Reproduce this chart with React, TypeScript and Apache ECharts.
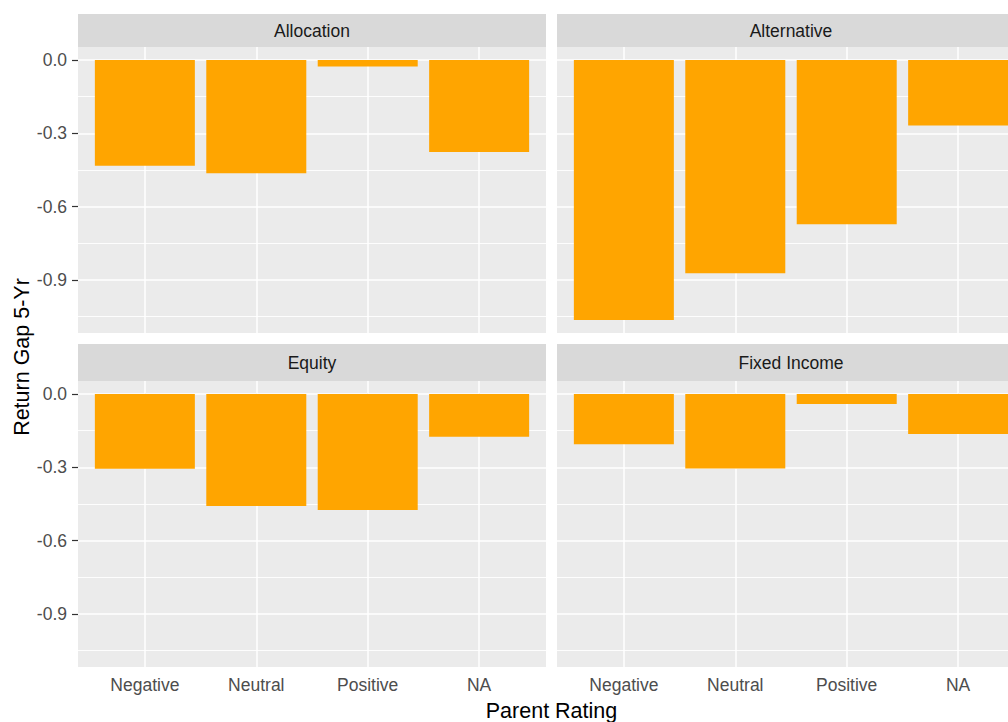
import React, { useEffect, useRef } from "react";
import * as echarts from "echarts";

const categories = ["Negative", "Neutral", "Positive", "NA"];
const facets = ["Allocation", "Alternative", "Equity", "Fixed Income"];
const allocation = [-0.433, -0.463, -0.027, -0.377];
const alternative = [-1.064, -0.873, -0.672, -0.268];
const equity = [-0.306, -0.458, -0.475, -0.175];
const fixedIncome = [-0.206, -0.305, -0.041, -0.164];
const majorTicks = [0, -0.3, -0.6, -0.9];
const minorTicks = [-0.15, -0.45, -0.75, -1.05];
const xTickValues = [1, 2, 3, 4];

const yMin = -1.117;
const yMax = 0.053;
const xMin = 0.4;
const xMax = 4.6;

const FONT = "'Liberation Sans', Arial, sans-serif";
const panels = [
  { left: 78, top: 47 },
  { left: 557, top: 47 },
  { left: 78, top: 381 },
  { left: 557, top: 381 },
];
const PW = 468;
const PH = 286;
const strips = [
  { top: 14, h: 33 },
  { top: 14, h: 33 },
  { top: 344, h: 37 },
  { top: 344, h: 37 },
];

export default function App() {
  const ref = useRef<HTMLDivElement>(null);
  useEffect(() => {
    if (!ref.current) return;
    const chart = echarts.init(ref.current, null, { renderer: "svg" });
    const values = [allocation, alternative, equity, fixedIncome];
    const grids: any[] = [];
    const xAxes: any[] = [];
    const yAxes: any[] = [];
    const series: any[] = [];
    const graphic: any[] = [];
    panels.forEach((p, i) => {
      const isBottom = i >= 2;
      const isLeft = i % 2 === 0;
      grids.push({
        left: p.left,
        top: p.top,
        width: PW,
        height: PH,
        show: true,
        backgroundColor: "#EBEBEB",
        borderWidth: 0,
      });
      xAxes.push({
        gridIndex: i,
        type: "value",
        min: xMin,
        max: xMax,
        axisLine: { show: false },
        axisTick: {
          show: isBottom,
          customValues: xTickValues,
          length: 5,
          lineStyle: { color: "#333333", width: 1.2 },
        },
        axisLabel: {
          show: isBottom,
          customValues: xTickValues,
          formatter: (v: number) => categories[Math.round(v) - 1],
          color: "#4D4D4D",
          fontSize: 17.5,
          fontFamily: FONT,
          margin: 9,
        },
        splitLine: { show: true, lineStyle: { color: "#FFFFFF", width: 1.5 } },
      });
      yAxes.push({
        gridIndex: i,
        type: "value",
        min: yMin,
        max: yMax,
        position: "left",
        axisLine: { show: false },
        axisTick: {
          show: isLeft,
          customValues: majorTicks,
          length: 6,
          lineStyle: { color: "#333333", width: 1.2 },
        },
        axisLabel: {
          show: isLeft,
          customValues: majorTicks,
          formatter: (v: number) => (Math.abs(v) < 1e-9 ? "0.0" : v.toFixed(1)),
          color: "#4D4D4D",
          fontSize: 17.5,
          fontFamily: FONT,
          margin: 11,
        },
        splitLine: { show: true, lineStyle: { color: "#FFFFFF", width: 1.5 } },
      });
      yAxes.push({
        gridIndex: i,
        type: "value",
        min: yMin,
        max: yMax,
        position: "left",
        axisLine: { show: false },
        axisTick: { show: false, customValues: minorTicks },
        axisLabel: { show: false, customValues: minorTicks },
        splitLine: { show: true, lineStyle: { color: "#FFFFFF", width: 0.9 } },
      });
      series.push({
        type: "bar",
        name: facets[i],
        xAxisIndex: i,
        yAxisIndex: i * 2,
        barWidth: 100,
        data: values[i].map((v, j) => [j + 1, v]),
        itemStyle: { color: "#FFA500" },
        z: 5,
      });
      const s = strips[i];
      graphic.push({
        type: "rect",
        shape: { x: p.left, y: s.top, width: PW, height: s.h },
        style: { fill: "#D9D9D9" },
        silent: true,
      });
      graphic.push({
        type: "text",
        x: p.left + PW / 2,
        y: s.top + s.h / 2,
        style: {
          text: facets[i],
          fill: "#1A1A1A",
          fontSize: 17.5,
          fontFamily: FONT,
          align: "center",
          verticalAlign: "middle",
        },
        silent: true,
      });
    });
    graphic.push({
      type: "text",
      x: 22,
      y: 357,
      rotation: Math.PI / 2,
      style: {
        text: "Return Gap 5-Yr",
        fill: "#000000",
        fontSize: 21.5,
        fontFamily: FONT,
        align: "center",
        verticalAlign: "middle",
      },
      silent: true,
    });
    graphic.push({
      type: "text",
      x: 551.5,
      y: 711,
      style: {
        text: "Parent Rating",
        fill: "#000000",
        fontSize: 21.5,
        fontFamily: FONT,
        align: "center",
        verticalAlign: "middle",
      },
      silent: true,
    });
    chart.setOption({
      animation: false,
      backgroundColor: "#FFFFFF",
      grid: grids,
      xAxis: xAxes,
      yAxis: yAxes,
      series,
      graphic,
    });
    return () => chart.dispose();
  }, []);
  return (
    <div
      style={{
        position: "fixed",
        left: 0,
        top: 0,
        width: 1008,
        height: 722,
        overflow: "hidden",
      }}
    >
      <div ref={ref} style={{ width: 1040, height: 722 }} />
    </div>
  );
}
